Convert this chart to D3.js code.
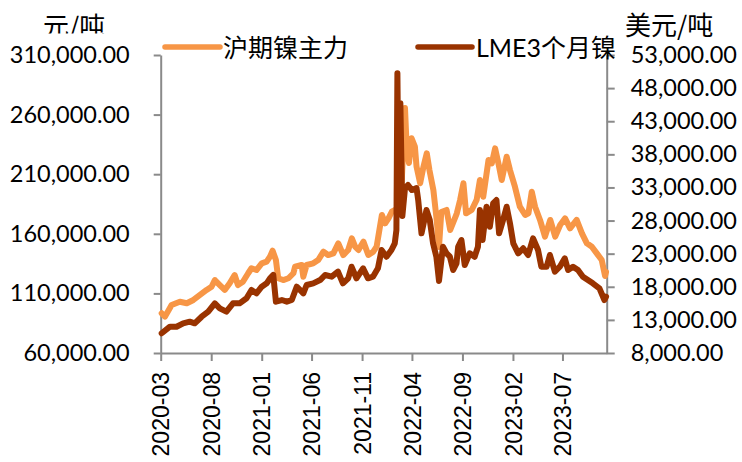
<!DOCTYPE html>
<html>
<head>
<meta charset="utf-8">
<script src="https://cdn.jsdelivr.net/npm/d3@7"></script>
<style>
  body { margin: 0; background: #fff; }
  svg { display: block; }
</style>
</head>
<body>
<svg id="chart" width="742" height="462"></svg>
<script>
// 沪期镍主力 (元/吨, left axis)
const shfeDates = [
  "2020-03-04","2020-03-14","2020-04-03","2020-04-28","2020-05-19","2020-06-08","2020-06-28","2020-07-18",
  "2020-08-02","2020-08-12","2020-08-27","2020-09-11","2020-09-26","2020-10-11","2020-10-21","2020-11-05",
  "2020-11-21","2020-12-01","2020-12-16","2021-01-01","2021-01-16","2021-01-26","2021-02-03","2021-02-13",
  "2021-02-20","2021-03-07","2021-03-23","2021-04-07","2021-04-12","2021-05-02","2021-05-07","2021-05-17",
  "2021-06-06","2021-06-21","2021-07-07","2021-07-21","2021-08-06","2021-08-21","2021-09-05","2021-09-20",
  "2021-10-01","2021-10-11","2021-10-21","2021-11-05","2021-11-20","2021-12-05","2021-12-15","2021-12-31",
  "2022-01-10","2022-01-20","2022-01-30","2022-02-09","2022-02-19","2022-02-24","2022-03-02","2022-03-11",
  "2022-03-16","2022-03-23","2022-03-31","2022-04-10","2022-04-15","2022-04-26","2022-05-06","2022-05-16",
  "2022-05-24","2022-06-05","2022-06-15","2022-06-22","2022-06-29","2022-07-15","2022-07-26","2022-08-15",
  "2022-08-25","2022-09-04","2022-09-12","2022-09-29","2022-10-14","2022-10-24","2022-11-03","2022-11-19",
  "2022-11-29","2022-12-09","2022-12-19","2022-12-29","2023-01-13","2023-01-23","2023-02-07","2023-02-22",
  "2023-03-10","2023-03-20","2023-03-30","2023-04-09","2023-04-24","2023-05-09","2023-05-25","2023-06-09",
  "2023-06-24","2023-07-09","2023-07-24","2023-08-13","2023-08-29","2023-09-13","2023-09-28","2023-10-13",
  "2023-10-28","2023-11-07","2023-11-10"
];
const shfeValues = [
  93300, 90500, 100300, 103000, 101700, 104500, 108700, 112900,
  115600, 121200, 117000, 112900, 118500, 125400, 117000, 119800,
  126900, 131100, 129600, 135200, 136600, 140800, 145800, 138000,
  122700, 121200, 122700, 126900, 132400, 133800, 124000, 133800,
  135200, 138000, 145000, 142200, 143600, 152000, 142200, 146400,
  156200, 149200, 146400, 153400, 142200, 145000, 149200, 175800,
  168800, 173000, 178500, 180000, 177400, 184200, 209300, 265500,
  233100, 219400, 240100, 233100, 216300, 202400, 216300, 227500,
  213500, 196700, 171600, 148900, 178300, 180000, 163200, 177200,
  188400, 202400, 177200, 180000, 188400, 205100, 191100, 221900,
  219100, 231700, 219100, 205100, 224700, 213500, 199500, 182700,
  175800, 177200, 195300, 182700, 171600, 157600, 171600, 157600,
  167400, 173000, 164600, 171600, 160400, 152000, 149200, 143600,
  138000, 124600, 128000
];

// LME3个月镍 (美元/吨, right axis)
const lmeDates = [
  "2020-03-04","2020-03-29","2020-04-18","2020-05-08","2020-05-28","2020-06-12","2020-07-03","2020-07-23",
  "2020-08-12","2020-08-27","2020-09-16","2020-10-06","2020-10-26","2020-11-16","2020-12-01","2020-12-16",
  "2021-01-01","2021-01-16","2021-01-26","2021-02-05","2021-02-13","2021-03-03","2021-03-18","2021-04-02",
  "2021-04-17","2021-05-02","2021-05-07","2021-05-17","2021-06-06","2021-06-27","2021-07-12","2021-08-01",
  "2021-08-20","2021-09-04","2021-09-20","2021-09-30","2021-10-15","2021-11-04","2021-11-19","2021-12-04",
  "2021-12-19","2021-12-30","2022-01-14","2022-01-29","2022-02-08","2022-02-13","2022-02-16","2022-02-20",
  "2022-02-25","2022-03-03","2022-03-11","2022-03-20","2022-04-01","2022-04-15","2022-04-20","2022-04-30",
  "2022-05-15","2022-05-25","2022-06-04","2022-06-14","2022-06-22","2022-07-04","2022-07-15","2022-07-25",
  "2022-08-04","2022-08-14","2022-08-19","2022-08-29","2022-09-08","2022-09-23","2022-10-08","2022-10-18",
  "2022-10-24","2022-11-01","2022-11-13","2022-11-23","2022-12-03","2022-12-13","2022-12-21","2023-01-02",
  "2023-01-13","2023-01-23","2023-02-02","2023-02-17","2023-03-04","2023-03-19","2023-04-03","2023-04-18",
  "2023-04-28","2023-05-14","2023-05-24","2023-06-08","2023-06-23","2023-07-08","2023-07-18","2023-08-02",
  "2023-08-17","2023-09-01","2023-09-16","2023-10-01","2023-10-21","2023-11-05","2023-11-10"
];
const lmeValues = [
  10980, 11970, 11970, 12480, 12730, 12480, 13480, 14240,
  15500, 14750, 14240, 15500, 15500, 16260, 17510, 17010,
  18010, 18520, 19280, 19780, 15750, 16000, 15750, 16000,
  18010, 17260, 17010, 18270, 18520, 19020, 19780, 19520,
  20280, 18520, 19280, 21030, 19280, 20790, 19280, 19520,
  20790, 23550, 22540, 23550, 24560, 26570, 50230, 30350,
  45700, 28690, 32900, 33370, 32610, 32900, 31100, 26070,
  29590, 28080, 24560, 22540, 18870, 24050, 23050, 22540,
  20530, 21540, 24050, 25060, 21290, 23050, 22540, 24050,
  29590, 25060, 30090, 27070, 30600, 31100, 26070, 28080,
  30090, 27580, 24560, 23050, 23810, 22800, 25320, 23550,
  21030, 21030, 22800, 20280, 21030, 22300, 20530, 21030,
  20530, 19520, 19020, 18520, 17770, 16000, 16500
];

const xTickLabels = ["2020-03","2020-08","2021-01","2021-06","2021-11","2022-04","2022-09","2023-02","2023-07"];
const leftTicks = [60000, 110000, 160000, 210000, 260000, 310000];
const rightTicks = [8000, 13000, 18000, 23000, 28000, 33000, 38000, 43000, 48000, 53000];
const seriesNames = ["沪期镍主力", "LME3个月镍"];
const seriesColors = ["#F79646", "#993300"];
const leftTitle = "元/吨";
const rightTitle = "美元/吨";

const parseDay = d3.timeParse("%Y-%m-%d");
const parseMonth = d3.timeParse("%Y-%m");

const plot = { left: 160.7, right: 606.7, top: 55, bottom: 353 };
const axisColor = "#8a8a8a";
const numFont = "Lato, 'Open Sans', sans-serif";
const cjkFont = "'Noto Sans CJK SC', sans-serif";

const svg = d3.select("#chart");

const x = d3.scaleTime()
  .domain([parseDay("2020-03-01"), parseDay("2023-11-12")])
  .range([plot.left, plot.right]);
const yLeft = d3.scaleLinear().domain([60000, 310000]).range([plot.bottom, plot.top]);
const yRight = d3.scaleLinear().domain([8000, 53000]).range([plot.bottom, plot.top]);

const fmt = d3.format(",.2f");

function styleAxis(g) {
  g.select(".domain").attr("stroke", axisColor).attr("stroke-width", 2);
  g.selectAll(".tick line").attr("stroke", axisColor).attr("stroke-width", 2);
  g.selectAll(".tick text").attr("fill", "#000");
}

// left axis
const gLeft = svg.append("g")
  .attr("transform", `translate(${plot.left},0)`)
  .call(d3.axisLeft(yLeft).tickValues(leftTicks).tickFormat(fmt)
    .tickSize(7).tickSizeOuter(0).tickPadding(24))
  .attr("font-family", numFont).attr("font-size", 23.5);
styleAxis(gLeft);

// right axis
const gRight = svg.append("g")
  .attr("transform", `translate(${plot.right},0)`)
  .call(d3.axisRight(yRight).tickValues(rightTicks).tickFormat(fmt)
    .tickSize(8).tickSizeOuter(0).tickPadding(16))
  .attr("font-family", numFont).attr("font-size", 23.5);
styleAxis(gRight);

// bottom axis with rotated month labels
const gBottom = svg.append("g")
  .attr("transform", `translate(0,${plot.bottom})`)
  .call(d3.axisBottom(x).tickValues(xTickLabels.map(parseMonth))
    .tickFormat(d3.timeFormat("%Y-%m")).tickSize(8).tickSizeOuter(0))
  .attr("font-family", "'Liberation Sans', Arial, sans-serif").attr("font-size", 23);
styleAxis(gBottom);
gBottom.selectAll(".tick text")
  .attr("transform", "rotate(-90)")
  .attr("text-anchor", "end")
  .attr("x", -19)
  .attr("y", 0)
  .attr("dy", "0.36em");

// series lines
const line = (yScale) => d3.line()
  .x(d => x(d.date))
  .y(d => yScale(d.value));

const shfe = shfeDates.map((d, i) => ({ date: parseDay(d), value: shfeValues[i] }));
const lme = lmeDates.map((d, i) => ({ date: parseDay(d), value: lmeValues[i] }));

svg.append("path")
  .datum(shfe)
  .attr("d", line(yLeft))
  .attr("fill", "none")
  .attr("stroke", seriesColors[0])
  .attr("stroke-width", 6)
  .attr("stroke-linejoin", "round")
  .attr("stroke-linecap", "round");

svg.append("path")
  .datum(lme)
  .attr("d", line(yRight))
  .attr("fill", "none")
  .attr("stroke", seriesColors[1])
  .attr("stroke-width", 6)
  .attr("stroke-linejoin", "round")
  .attr("stroke-linecap", "round");

// axis unit titles (left one is cut off at the bottom)
svg.append("clipPath").attr("id", "leftTitleClip")
  .append("rect").attr("x", 0).attr("y", 0).attr("width", 160).attr("height", 33.5);
svg.append("text")
  .attr("clip-path", "url(#leftTitleClip)")
  .attr("x", 43).attr("y", 36)
  .attr("font-family", cjkFont).attr("font-size", 26)
  .attr("fill", "#000")
  .text(leftTitle);
svg.append("text")
  .attr("x", 625).attr("y", 35)
  .attr("font-family", cjkFont).attr("font-size", 26)
  .attr("fill", "#000")
  .text(rightTitle);

// legend
const legendItems = [
  { name: seriesNames[0], color: seriesColors[0], x0: 165, x1: 220, tx: 223 },
  { name: seriesNames[1], color: seriesColors[1], x0: 418, x1: 472, tx: 476 }
];
const legend = svg.append("g");
legendItems.forEach(it => {
  legend.append("line")
    .attr("x1", it.x0).attr("x2", it.x1)
    .attr("y1", 47).attr("y2", 47)
    .attr("stroke", it.color).attr("stroke-width", 5.5)
    .attr("stroke-linecap", "round");
  legend.append("text")
    .attr("x", it.tx).attr("y", 47)
    .attr("dominant-baseline", "central")
    .attr("font-family", "Lato, 'Noto Sans CJK SC', sans-serif")
    .attr("font-size", 25)
    .attr("fill", "#000")
    .text(it.name);
});
</script>
</body>
</html>
